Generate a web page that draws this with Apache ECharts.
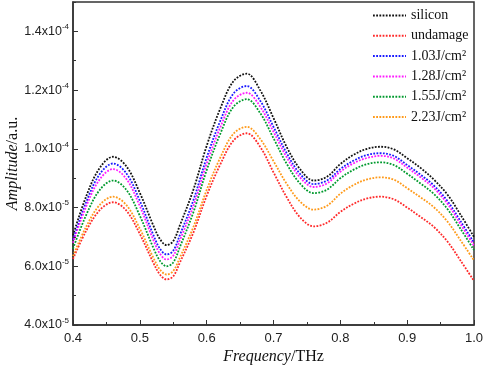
<!DOCTYPE html>
<html>
<head>
<meta charset="utf-8">
<script src="https://cdn.jsdelivr.net/npm/echarts@6/dist/echarts.min.js"></script>
<style>
  html, body { margin: 0; padding: 0; background: #fff; }
  #chart { width: 484px; height: 366px; }
</style>
</head>
<body>
<div id="chart"></div>
<script>
// amplitude values are in units of 1e-5 a.u.
var freq = [0.40, 0.42, 0.44, 0.46, 0.48, 0.50, 0.52, 0.53, 0.54, 0.55, 0.56, 0.58, 0.60,
            0.62, 0.64, 0.66, 0.68, 0.70, 0.72, 0.74, 0.76, 0.78, 0.80,
            0.82, 0.84, 0.86, 0.88, 0.90, 0.92, 0.94, 0.96, 0.98, 1.00];

var silicon = [7.05, 8.40, 9.35, 9.73, 9.40, 8.50, 7.40, 6.93, 6.72, 6.86, 7.40, 8.60, 10.10,
               11.35, 12.30, 12.56, 12.00, 11.05, 10.05, 9.30, 8.92, 9.05, 9.48,
               9.80, 10.00, 10.07, 9.98, 9.68, 9.35, 8.95, 8.45, 7.75, 7.00];
var undamage = [6.25, 7.22, 7.91, 8.18, 7.89, 7.10, 6.13, 5.72, 5.55, 5.66, 6.13, 7.14, 8.40,
                9.45, 10.28, 10.53, 10.07, 9.20, 8.34, 7.66, 7.36, 7.48, 7.85,
                8.13, 8.31, 8.37, 8.28, 8.00, 7.68, 7.34, 6.85, 6.19, 5.50];
var f103 = [6.90, 8.20, 9.14, 9.50, 9.16, 8.23, 7.08, 6.60, 6.40, 6.53, 7.07, 8.24, 9.70,
            10.93, 11.88, 12.14, 11.64, 10.75, 9.84, 9.14, 8.80, 8.92, 9.31,
            9.60, 9.79, 9.85, 9.76, 9.45, 9.12, 8.75, 8.23, 7.53, 6.80];
var f128 = [6.80, 8.06, 8.96, 9.31, 8.97, 8.05, 6.91, 6.43, 6.23, 6.36, 6.89, 8.05, 9.49,
            10.71, 11.65, 11.91, 11.44, 10.58, 9.70, 9.02, 8.70, 8.82, 9.22,
            9.51, 9.69, 9.76, 9.67, 9.36, 9.03, 8.66, 8.14, 7.43, 6.70];
var f155 = [6.60, 7.76, 8.60, 8.92, 8.60, 7.72, 6.64, 6.19, 6.00, 6.13, 6.66, 7.83, 9.27,
            10.49, 11.43, 11.69, 11.22, 10.36, 9.48, 8.81, 8.49, 8.61, 9.00,
            9.29, 9.48, 9.54, 9.45, 9.15, 8.82, 8.46, 7.96, 7.27, 6.55];
var f223 = [6.35, 7.36, 8.09, 8.37, 8.08, 7.28, 6.30, 5.89, 5.72, 5.84, 6.30, 7.33, 8.60,
            9.68, 10.51, 10.75, 10.34, 9.58, 8.80, 8.20, 7.93, 8.06, 8.47,
            8.77, 8.96, 9.03, 8.95, 8.66, 8.35, 8.01, 7.53, 6.88, 6.20];

var names = ['silicon', 'undamage', '1.03J/cm²', '1.28J/cm²', '1.55J/cm²', '2.23J/cm²'];
var colors = ['#111111', '#ff2a2a', '#1a1aff', '#ff1aff', '#009a2e', '#ff9a1a'];
var values = [silicon, undamage, f103, f128, f155, f223];

function pairs(ys) {
  return freq.map(function (x, i) { return [x, ys[i]]; });
}

var myChart = echarts.init(document.getElementById('chart'));

var series = names.map(function (n, i) {
  return {
    name: n,
    type: 'line',
    smooth: 0.35,
    showSymbol: false,
    symbol: 'none',
    xAxisIndex: 0,
    yAxisIndex: 0,
    lineStyle: { width: 1.8, type: [1.8, 1.4], color: colors[i] },
    itemStyle: { color: colors[i] },
    data: pairs(values[i])
  };
});

myChart.setOption({
  animation: false,
  color: colors,
  grid: {
    left: 73, right: 10, top: 2, bottom: 41,
    show: true,
    borderColor: '#333',
    borderWidth: 1.5,
    containLabel: false,
    outerBoundsMode: 'none'
  },
  legend: {
    data: names,
    orient: 'vertical',
    left: 372,
    top: 8,
    padding: 0,
    itemWidth: 33,
    itemHeight: 10,
    itemGap: 5.3,
    itemStyle: { opacity: 0 },
    textStyle: {
      fontFamily: 'Liberation Serif',
      fontSize: 14,
      color: '#111',
      lineHeight: 15
    }
  },
  xAxis: [{
    type: 'value',
    min: 0.4,
    max: 1.0,
    interval: 0.1,
    name: '{i|Frequency}{n|/THz}',
    nameLocation: 'middle',
    nameGap: 24,
    nameMoveOverlap: false,
    nameTextStyle: {
      rich: {
        i: { fontFamily: 'Liberation Serif', fontSize: 16, fontStyle: 'italic', color: '#111' },
        n: { fontFamily: 'Liberation Serif', fontSize: 16, color: '#111' }
      }
    },
    axisLine: { show: true, lineStyle: { color: '#333', width: 1.5 } },
    axisTick: { show: true, inside: true, length: 5, lineStyle: { color: '#333', width: 1 } },
    minorTick: { show: true, splitNumber: 2, length: 3, lineStyle: { color: '#333', width: 1 } },
    splitLine: { show: false },
    axisLabel: {
      margin: 7,
      fontFamily: 'Liberation Sans',
      fontSize: 13,
      color: '#222',
      formatter: function (v) { return v.toFixed(1); }
    }
  }],
  yAxis: [{
    type: 'value',
    min: 4,
    max: 15,
    interval: 2,
    name: '{i|Amplitude}{n|/a.u.}',
    nameLocation: 'middle',
    nameGap: 52,
    nameMoveOverlap: false,
    nameTextStyle: {
      rich: {
        i: { fontFamily: 'Liberation Serif', fontSize: 16, fontStyle: 'italic', color: '#111' },
        n: { fontFamily: 'Liberation Serif', fontSize: 16, color: '#111' }
      }
    },
    axisLine: { show: true, lineStyle: { color: '#333', width: 1.5 } },
    axisTick: { show: true, inside: true, length: 5, lineStyle: { color: '#333', width: 1 } },
    splitLine: { show: false },
    axisLabel: {
      margin: 4,
      showMaxLabel: false,
      fontFamily: 'Liberation Sans',
      fontSize: 12.5,
      color: '#222',
      formatter: function (v) {
        if (v > 14.5) return '';
        if (v < 10) return '{a|' + v.toFixed(1) + 'x10}{s|-5}';
        return '{a|' + (v / 10).toFixed(1) + 'x10}{s|-4}';
      },
      rich: {
        a: { fontFamily: 'Liberation Sans', fontSize: 12.5, color: '#222' },
        s: { fontFamily: 'Liberation Sans', fontSize: 8, color: '#222', padding: [0, 0, 9, 0] }
      }
    }
  }, {
    // short minor ticks every 1e-5
    type: 'value',
    min: 4,
    max: 15,
    interval: 1,
    position: 'left',
    offset: 0,
    axisLine: { show: false },
    axisTick: { show: true, inside: true, length: 3, lineStyle: { color: '#333', width: 1 } },
    axisLabel: { show: false },
    splitLine: { show: false }
  }],
  series: series
});
</script>
</body>
</html>
